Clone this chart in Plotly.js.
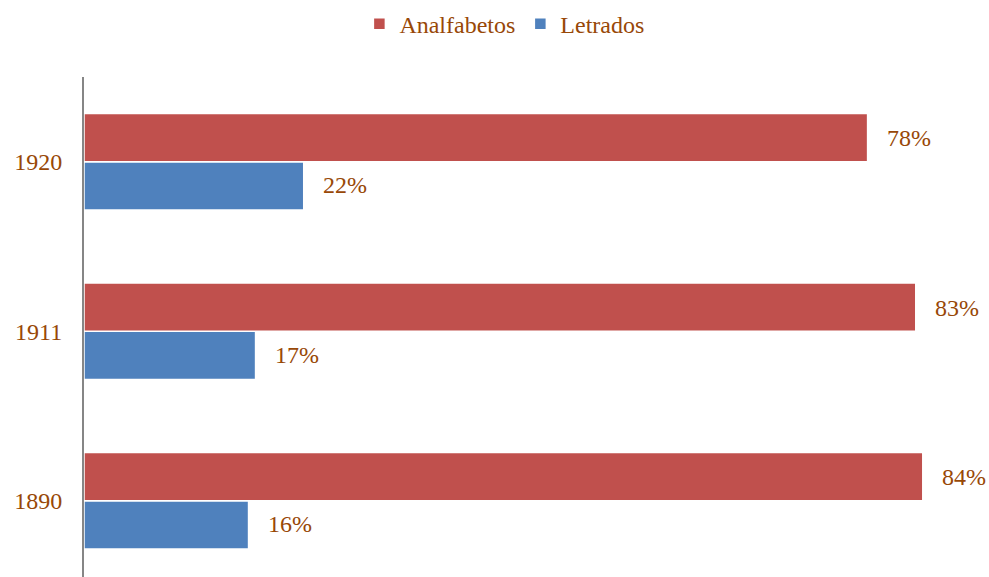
<!DOCTYPE html>
<html>
<head>
<meta charset="utf-8">
<script src="https://cdn.plot.ly/plotly-3.0.1.min.js"></script>
<style>html,body{margin:0;padding:0;background:#fff;}#chart{width:989px;height:577px;}</style>
</head>
<body>
<div id="chart"></div>
<script>
var years = ['1890', '1911', '1920'];
var analfabetos = [0.836, 0.829, 0.781];
var letrados = [0.164, 0.171, 0.219];
var seriesNames = ['Analfabetos', 'Letrados'];
var seriesColors = ['#C0504D', '#4F81BD'];
var textColor = '#984807';
var fontFamily = '"Liberation Serif", "DejaVu Serif", serif';

var traces = [
  {type: 'bar', orientation: 'h', name: seriesNames[1], y: years, x: letrados,
   marker: {color: seriesColors[1], line: {color: '#ffffff', width: 1.5}}, hoverinfo: 'none'},
  {type: 'bar', orientation: 'h', name: seriesNames[0], y: years, x: analfabetos,
   marker: {color: seriesColors[0], line: {color: '#ffffff', width: 1.5}}, hoverinfo: 'none'}
];

var annotations = [];
function addLabels(vals, offset) {
  for (var i = 0; i < years.length; i++) {
    annotations.push({
      x: vals[i], y: i + offset, xref: 'x', yref: 'y',
      text: Math.round(vals[i] * 100) + '%', showarrow: false,
      xanchor: 'left', yanchor: 'middle', xshift: 17,
      font: {family: fontFamily, size: 24, color: textColor}
    });
  }
}
addLabels(analfabetos, 0.14);
addLabels(letrados, -0.14);

var layout = {
  width: 989, height: 577,
  margin: {l: 84, r: 2, t: 77, b: 0},
  paper_bgcolor: '#ffffff', plot_bgcolor: '#ffffff',
  barmode: 'group', bargap: 0.43, bargroupgap: 0.0,
  showlegend: true,
  legend: {orientation: 'h', x: 0.51, xref: 'container', xanchor: 'center', y: 0.997, yref: 'container', yanchor: 'top',
           traceorder: 'reversed', font: {family: fontFamily, size: 24, color: textColor},
           itemwidth: 30},
  xaxis: {range: [0, 0.9], showgrid: false, zeroline: false, showticklabels: false, ticks: '', showline: false, fixedrange: true},
  yaxis: {type: 'category', categoryorder: 'array', categoryarray: years, range: [-0.45, 2.5],
          showgrid: false, zeroline: false, showline: true, linecolor: '#868686', linewidth: 2,
          ticks: '', ticklabelstandoff: 15,
          tickfont: {family: fontFamily, size: 24, color: textColor}, fixedrange: true},
  annotations: annotations
};

Plotly.newPlot('chart', traces, layout, {displayModeBar: false, staticPlot: true});
</script>
</body>
</html>
